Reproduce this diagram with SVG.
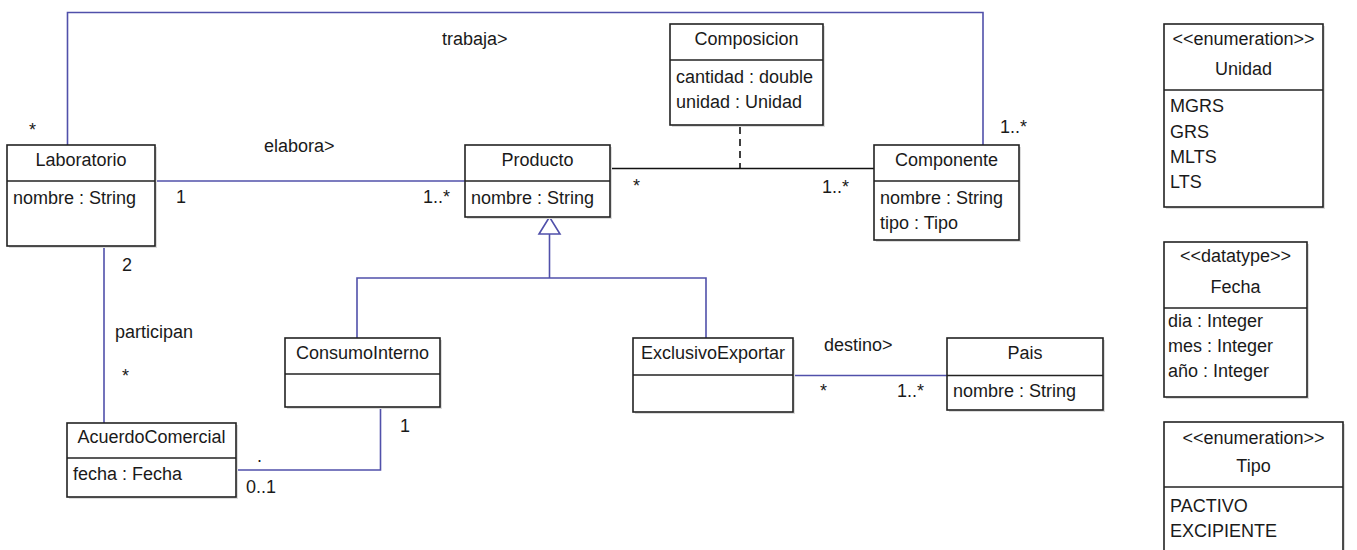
<svg xmlns="http://www.w3.org/2000/svg" width="1357" height="550" viewBox="0 0 1357 550">
<style>
text{font-family:"Liberation Sans",Arial,sans-serif;font-size:18px;fill:#1a1a1a}
.t{text-anchor:middle}
.box{fill:#fff;stroke:#222;stroke-width:1.6}
.sh{fill:#dcdcdc}
.dv{stroke:#222;stroke-width:1.6}
.c{fill:none;stroke:#5050aa;stroke-width:1.6}
.k{fill:none;stroke:#111;stroke-width:1.6}
.d{fill:none;stroke:#111;stroke-width:1.6;stroke-dasharray:7,5}
</style>
<rect width="1357" height="550" fill="#fff"/>
<g id="connectors">
<polyline class="c" points="67.5,145 67.5,12.5 983,12.5 983,145"/>
<line class="c" x1="155" y1="181" x2="465" y2="181"/>
<line class="c" x1="104" y1="246" x2="104" y2="423"/>
<line class="k" x1="610" y1="168.5" x2="874" y2="168.5"/>
<line class="d" x1="740" y1="127" x2="740" y2="168"/>
<polyline class="c" points="549.5,234 549.5,278"/>
<polyline class="c" points="357,338 357,278 706,278 706,338"/>
<polygon class="c" points="549.5,217 539,234 560,234" fill="#fff"/>
<polyline class="c" points="380.5,407 380.5,470 236,470"/>
<line class="c" x1="793" y1="375.5" x2="947" y2="375.5"/>
<text x="442" y="45">trabaja&gt;</text>
<text x="29" y="136">*</text>
<text x="1000" y="133">1..*</text>
<text x="264" y="152">elabora&gt;</text>
<text x="176" y="203">1</text>
<text x="423" y="203">1..*</text>
<text x="633" y="192">*</text>
<text x="822" y="193">1..*</text>
<text x="122" y="271">2</text>
<text x="115" y="338">participan</text>
<text x="122" y="382">*</text>
<text x="400" y="432">1</text>
<text x="257" y="462">.</text>
<text x="246" y="493">0..1</text>
<text x="824" y="351">destino&gt;</text>
<text x="820" y="397">*</text>
<text x="897" y="397">1..*</text>
</g>
<g id="Laboratorio">
<rect class="sh" x="9" y="147" width="148" height="101"/>
<rect class="box" x="7" y="145" width="148" height="101"/>
<line class="dv" x1="7" y1="181" x2="155" y2="181"/>
<text class="t" x="81" y="166">Laboratorio</text>
<text x="13" y="204">nombre : String</text>
</g>
<g id="Producto">
<rect class="sh" x="467" y="147" width="145" height="72"/>
<rect class="box" x="465" y="145" width="145" height="72"/>
<line class="dv" x1="465" y1="181" x2="610" y2="181"/>
<text class="t" x="537.5" y="166">Producto</text>
<text x="471" y="204">nombre : String</text>
</g>
<g id="Componente">
<rect class="sh" x="876" y="147" width="145" height="95"/>
<rect class="box" x="874" y="145" width="145" height="95"/>
<line class="dv" x1="874" y1="181" x2="1019" y2="181"/>
<text class="t" x="946.5" y="166">Componente</text>
<text x="880" y="204">nombre : String</text>
<text x="880" y="229">tipo : Tipo</text>
</g>
<g id="Composicion">
<rect class="sh" x="672" y="26" width="153" height="101"/>
<rect class="box" x="670" y="24" width="153" height="101"/>
<line class="dv" x1="670" y1="60" x2="823" y2="60"/>
<text class="t" x="746.5" y="45">Composicion</text>
<text x="676" y="83">cantidad : double</text>
<text x="676" y="108">unidad : Unidad</text>
</g>
<g id="ConsumoInterno">
<rect class="sh" x="287" y="340" width="155" height="69"/>
<rect class="box" x="285" y="338" width="155" height="69"/>
<line class="dv" x1="285" y1="374" x2="440" y2="374"/>
<text class="t" x="362.5" y="359">ConsumoInterno</text>
</g>
<g id="ExclusivoExportar">
<rect class="sh" x="635" y="340" width="160" height="74"/>
<rect class="box" x="633" y="338" width="160" height="74"/>
<line class="dv" x1="633" y1="375" x2="793" y2="375"/>
<text class="t" x="713" y="359">ExclusivoExportar</text>
</g>
<g id="Pais">
<rect class="sh" x="949" y="340" width="156" height="72"/>
<rect class="box" x="947" y="338" width="156" height="72"/>
<line class="dv" x1="947" y1="375.5" x2="1103" y2="375.5"/>
<text class="t" x="1025" y="359">Pais</text>
<text x="953" y="397">nombre : String</text>
</g>
<g id="AcuerdoComercial">
<rect class="sh" x="69" y="425" width="169" height="74"/>
<rect class="box" x="67" y="423" width="169" height="74"/>
<line class="dv" x1="67" y1="458" x2="236" y2="458"/>
<text class="t" x="151.5" y="443">AcuerdoComercial</text>
<text x="73" y="480">fecha : Fecha</text>
</g>
<g id="Unidad">
<rect class="sh" x="1166" y="26" width="159" height="183"/>
<rect class="box" x="1164" y="24" width="159" height="183"/>
<line class="dv" x1="1164" y1="90" x2="1323" y2="90"/>
<text class="t" x="1243.5" y="45">&lt;&lt;enumeration&gt;&gt;</text>
<text class="t" x="1243.5" y="75">Unidad</text>
<text x="1170" y="112">MGRS</text>
<text x="1170" y="138">GRS</text>
<text x="1170" y="163">MLTS</text>
<text x="1170" y="188">LTS</text>
</g>
<g id="Fecha">
<rect class="sh" x="1166" y="244" width="143" height="155"/>
<rect class="box" x="1164" y="242" width="143" height="155"/>
<line class="dv" x1="1164" y1="308" x2="1307" y2="308"/>
<text class="t" x="1235.5" y="262">&lt;&lt;datatype&gt;&gt;</text>
<text class="t" x="1235.5" y="293">Fecha</text>
<text x="1168" y="327">dia : Integer</text>
<text x="1168" y="352">mes : Integer</text>
<text x="1168" y="377">año : Integer</text>
</g>
<g id="Tipo">
<rect class="sh" x="1166" y="424" width="179" height="140"/>
<rect class="box" x="1164" y="422" width="179" height="140"/>
<line class="dv" x1="1164" y1="487" x2="1343" y2="487"/>
<text class="t" x="1253.5" y="444">&lt;&lt;enumeration&gt;&gt;</text>
<text class="t" x="1253.5" y="472">Tipo</text>
<text x="1170" y="512">PACTIVO</text>
<text x="1170" y="537">EXCIPIENTE</text>
</g>
</svg>
